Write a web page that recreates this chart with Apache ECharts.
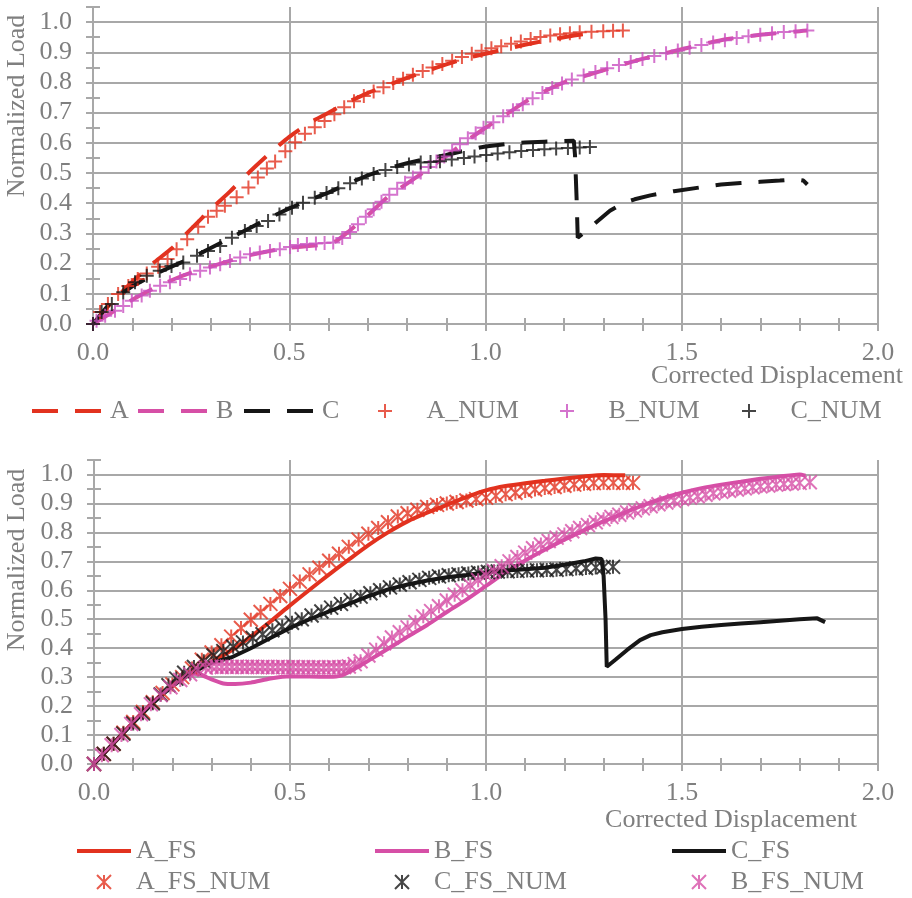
<!DOCTYPE html>
<html>
<head>
<meta charset="utf-8">
<script src="https://cdn.jsdelivr.net/npm/echarts@6/dist/echarts.min.js"></script>
<style>
  html, body { margin: 0; padding: 0; background: #ffffff; }
  #chart { width: 912px; height: 898px; }
</style>
</head>
<body>
<div id="chart"></div>
<script>
// ---- Upper panel: Corrected Displacement vs Normalized Load ----
const dispA = [[0,0],[0.05,0.075],[0.1,0.14],[0.15,0.198],[0.2,0.25],[0.25,0.315],[0.3,0.38],[0.35,0.44],[0.4,0.505],[0.45,0.565],[0.5,0.62],[0.55,0.665],[0.6,0.70],[0.65,0.735],[0.7,0.765],[0.75,0.79],[0.8,0.815],[0.85,0.838],[0.9,0.86],[0.95,0.88],[1.0,0.895],[1.05,0.91],[1.1,0.925],[1.15,0.938],[1.2,0.95],[1.25,0.96],[1.29,0.965]];

const dispB = [[0,0],[0.05,0.04],[0.1,0.08],[0.15,0.115],[0.2,0.145],[0.25,0.17],[0.3,0.19],[0.35,0.21],[0.4,0.228],[0.45,0.242],[0.5,0.253],[0.55,0.258],[0.6,0.265],[0.62,0.275],[0.65,0.305],[0.7,0.36],[0.75,0.42],[0.8,0.465],[0.85,0.51],[0.9,0.556],[0.95,0.605],[1.0,0.65],[1.05,0.692],[1.1,0.735],[1.15,0.77],[1.2,0.80],[1.3,0.84],[1.4,0.878],[1.5,0.91],[1.6,0.94],[1.7,0.958],[1.8,0.970],[1.82,0.972]];

const dispC = [[0,0],[0.05,0.08],[0.1,0.125],[0.15,0.16],[0.2,0.19],[0.25,0.218],[0.3,0.252],[0.35,0.285],[0.4,0.318],[0.45,0.352],[0.5,0.383],[0.55,0.41],[0.6,0.435],[0.65,0.465],[0.7,0.492],[0.75,0.515],[0.8,0.533],[0.85,0.547],[0.9,0.56],[0.95,0.575],[1.0,0.588],[1.05,0.596],[1.1,0.601],[1.15,0.604],[1.2,0.606],[1.225,0.607],[1.228,0.56],[1.232,0.42],[1.235,0.286],[1.26,0.312],[1.283,0.338],[1.317,0.375],[1.35,0.40],[1.38,0.413],[1.42,0.426],[1.48,0.44],[1.55,0.453],[1.6,0.462],[1.65,0.467],[1.7,0.471],[1.75,0.475],[1.79,0.479],[1.81,0.475],[1.82,0.462]];

const numA = [[0,0],[0.018,0.04],[0.038,0.066],[0.064,0.099],[0.09,0.126],[0.114,0.149],[0.137,0.167],[0.166,0.19],[0.19,0.215],[0.213,0.248],[0.24,0.281],[0.268,0.322],[0.293,0.355],[0.315,0.375],[0.336,0.392],[0.366,0.42],[0.396,0.452],[0.42,0.485],[0.443,0.515],[0.464,0.538],[0.49,0.572],[0.515,0.602],[0.54,0.63],[0.565,0.652],[0.59,0.672],[0.615,0.695],[0.64,0.718],[0.665,0.738],[0.69,0.755],[0.715,0.77],[0.74,0.784],[0.765,0.798],[0.79,0.812],[0.815,0.826],[0.84,0.838],[0.865,0.85],[0.89,0.861],[0.915,0.872],[0.94,0.884],[0.965,0.895],[0.99,0.905],[1.015,0.913],[1.04,0.92],[1.065,0.928],[1.09,0.936],[1.115,0.944],[1.14,0.951],[1.165,0.956],[1.19,0.96],[1.215,0.963],[1.24,0.966],[1.27,0.968],[1.3,0.97],[1.325,0.971],[1.35,0.972]];

const numB = [[0,0],[0.009,0.011],[0.031,0.027],[0.056,0.044],[0.077,0.06],[0.099,0.077],[0.124,0.094],[0.145,0.11],[0.171,0.127],[0.196,0.138],[0.222,0.149],[0.247,0.165],[0.273,0.176],[0.298,0.187],[0.324,0.198],[0.349,0.209],[0.375,0.22],[0.4,0.231],[0.425,0.237],[0.451,0.242],[0.476,0.248],[0.502,0.255],[0.522,0.262],[0.545,0.265],[0.568,0.267],[0.59,0.268],[0.612,0.27],[0.635,0.285],[0.655,0.305],[0.675,0.33],[0.695,0.355],[0.715,0.38],[0.735,0.405],[0.755,0.428],[0.775,0.448],[0.795,0.468],[0.815,0.485],[0.835,0.502],[0.855,0.52],[0.875,0.538],[0.895,0.555],[0.915,0.575],[0.935,0.595],[0.955,0.615],[0.975,0.632],[0.995,0.65],[1.02,0.668],[1.045,0.688],[1.07,0.708],[1.095,0.728],[1.12,0.748],[1.145,0.765],[1.17,0.782],[1.195,0.797],[1.22,0.81],[1.25,0.823],[1.28,0.835],[1.31,0.847],[1.34,0.858],[1.37,0.868],[1.4,0.878],[1.43,0.888],[1.46,0.897],[1.49,0.906],[1.52,0.915],[1.55,0.924],[1.58,0.932],[1.61,0.94],[1.64,0.947],[1.67,0.953],[1.7,0.958],[1.73,0.963],[1.76,0.967],[1.79,0.97],[1.82,0.972]];

const numC = [[0,0],[0.022,0.04],[0.048,0.066],[0.077,0.105],[0.107,0.138],[0.137,0.16],[0.17,0.176],[0.2,0.192],[0.23,0.204],[0.265,0.226],[0.293,0.242],[0.324,0.258],[0.354,0.286],[0.387,0.308],[0.417,0.325],[0.446,0.341],[0.475,0.363],[0.507,0.385],[0.535,0.402],[0.565,0.418],[0.595,0.434],[0.625,0.45],[0.655,0.466],[0.685,0.482],[0.715,0.497],[0.745,0.51],[0.775,0.52],[0.805,0.528],[0.835,0.535],[0.86,0.537],[0.884,0.539],[0.914,0.545],[0.945,0.55],[0.972,0.555],[1.002,0.56],[1.031,0.565],[1.061,0.569],[1.091,0.573],[1.121,0.576],[1.15,0.579],[1.18,0.581],[1.21,0.583],[1.24,0.585],[1.266,0.586]];

// ---- Lower panel: FS runs ----
const fsA = [[0,0],[0.05,0.072],[0.1,0.145],[0.15,0.213],[0.2,0.272],[0.25,0.315],[0.3,0.352],[0.35,0.392],[0.4,0.44],[0.45,0.492],[0.5,0.548],[0.55,0.602],[0.6,0.655],[0.65,0.706],[0.7,0.756],[0.75,0.80],[0.8,0.838],[0.85,0.868],[0.9,0.895],[0.95,0.922],[1.0,0.945],[1.05,0.96],[1.1,0.97],[1.15,0.978],[1.2,0.986],[1.25,0.993],[1.3,0.998],[1.355,0.997]];

const fsB = [[0,0],[0.05,0.072],[0.1,0.145],[0.15,0.213],[0.2,0.27],[0.25,0.312],[0.27,0.31],[0.3,0.292],[0.33,0.278],[0.36,0.276],[0.4,0.281],[0.45,0.295],[0.5,0.303],[0.55,0.302],[0.6,0.301],[0.63,0.305],[0.66,0.325],[0.7,0.357],[0.75,0.398],[0.8,0.44],[0.85,0.48],[0.9,0.525],[0.95,0.568],[1.0,0.615],[1.05,0.662],[1.1,0.703],[1.15,0.74],[1.2,0.775],[1.25,0.807],[1.3,0.838],[1.35,0.866],[1.4,0.893],[1.45,0.917],[1.5,0.937],[1.55,0.953],[1.6,0.965],[1.65,0.975],[1.7,0.985],[1.75,0.993],[1.8,1.0],[1.815,0.996]];

const fsC = [[0,0],[0.05,0.072],[0.1,0.142],[0.15,0.21],[0.2,0.27],[0.25,0.315],[0.3,0.35],[0.35,0.368],[0.4,0.4],[0.45,0.435],[0.5,0.47],[0.55,0.5],[0.6,0.527],[0.65,0.553],[0.7,0.58],[0.75,0.603],[0.8,0.62],[0.85,0.634],[0.9,0.645],[0.95,0.653],[1.0,0.662],[1.05,0.668],[1.1,0.673],[1.15,0.678],[1.2,0.688],[1.25,0.7],[1.28,0.71],[1.295,0.708],[1.3,0.65],[1.305,0.5],[1.308,0.336],[1.33,0.36],[1.36,0.394],[1.393,0.428],[1.42,0.445],[1.45,0.455],[1.5,0.466],[1.55,0.474],[1.6,0.48],[1.65,0.485],[1.7,0.49],[1.75,0.495],[1.8,0.5],[1.845,0.503],[1.865,0.49]];

const fsNumA = [[0,0],[0.025,0.035],[0.05,0.07],[0.075,0.108],[0.1,0.145],[0.125,0.18],[0.15,0.213],[0.175,0.245],[0.2,0.275],[0.225,0.3],[0.25,0.33],[0.275,0.36],[0.3,0.385],[0.325,0.41],[0.35,0.44],[0.375,0.47],[0.4,0.498],[0.425,0.525],[0.45,0.553],[0.475,0.58],[0.5,0.605],[0.525,0.63],[0.55,0.655],[0.575,0.678],[0.6,0.702],[0.625,0.726],[0.65,0.75],[0.675,0.775],[0.7,0.795],[0.725,0.815],[0.75,0.835],[0.775,0.855],[0.8,0.866],[0.825,0.878],[0.85,0.888],[0.875,0.895],[0.9,0.9],[0.925,0.905],[0.95,0.91],[0.975,0.915],[1.0,0.92],[1.025,0.926],[1.05,0.932],[1.075,0.937],[1.1,0.943],[1.125,0.948],[1.15,0.953],[1.175,0.957],[1.2,0.961],[1.225,0.965],[1.25,0.968],[1.275,0.97],[1.3,0.971],[1.325,0.971],[1.35,0.971],[1.375,0.971]];

const fsNumC = [[0,0],[0.025,0.035],[0.05,0.07],[0.075,0.105],[0.1,0.14],[0.125,0.175],[0.15,0.21],[0.17,0.24],[0.19,0.272],[0.21,0.295],[0.23,0.315],[0.255,0.335],[0.28,0.355],[0.305,0.375],[0.33,0.39],[0.355,0.405],[0.38,0.42],[0.405,0.435],[0.43,0.448],[0.455,0.462],[0.48,0.475],[0.505,0.488],[0.53,0.5],[0.555,0.513],[0.58,0.527],[0.605,0.54],[0.63,0.553],[0.655,0.566],[0.68,0.578],[0.705,0.59],[0.73,0.6],[0.755,0.61],[0.78,0.62],[0.805,0.628],[0.83,0.636],[0.855,0.643],[0.88,0.648],[0.905,0.652],[0.93,0.655],[0.955,0.658],[0.98,0.661],[1.005,0.663],[1.03,0.665],[1.055,0.666],[1.08,0.667],[1.105,0.668],[1.13,0.669],[1.155,0.67],[1.18,0.671],[1.205,0.673],[1.23,0.675],[1.255,0.677],[1.28,0.679],[1.3,0.68],[1.324,0.681]];

const fsNumB = [[0,0],[0.02,0.03],[0.045,0.065],[0.07,0.1],[0.095,0.138],[0.12,0.172],[0.145,0.206],[0.17,0.238],[0.195,0.265],[0.22,0.29],[0.245,0.31],[0.265,0.325],[0.285,0.333],[0.3,0.336],[0.313,0.336],[0.326,0.335],[0.339,0.336],[0.352,0.335],[0.365,0.336],[0.378,0.335],[0.391,0.335],[0.404,0.336],[0.417,0.335],[0.43,0.335],[0.443,0.335],[0.456,0.334],[0.469,0.335],[0.482,0.335],[0.495,0.334],[0.508,0.335],[0.521,0.334],[0.534,0.334],[0.547,0.334],[0.56,0.334],[0.573,0.334],[0.586,0.333],[0.599,0.334],[0.612,0.334],[0.625,0.334],[0.638,0.335],[0.65,0.337],[0.665,0.345],[0.68,0.355],[0.7,0.375],[0.72,0.395],[0.74,0.417],[0.76,0.437],[0.78,0.455],[0.8,0.472],[0.82,0.49],[0.84,0.51],[0.86,0.528],[0.88,0.545],[0.9,0.565],[0.92,0.585],[0.94,0.6],[0.96,0.617],[0.98,0.635],[1.0,0.652],[1.02,0.667],[1.04,0.683],[1.06,0.7],[1.08,0.715],[1.1,0.73],[1.12,0.745],[1.14,0.758],[1.16,0.77],[1.18,0.782],[1.2,0.793],[1.22,0.804],[1.24,0.815],[1.26,0.825],[1.28,0.835],[1.3,0.845],[1.32,0.853],[1.34,0.861],[1.36,0.869],[1.38,0.876],[1.4,0.883],[1.42,0.89],[1.44,0.897],[1.46,0.903],[1.48,0.909],[1.5,0.915],[1.52,0.92],[1.54,0.925],[1.56,0.93],[1.58,0.935],[1.6,0.94],[1.62,0.944],[1.64,0.948],[1.66,0.952],[1.68,0.956],[1.7,0.959],[1.72,0.962],[1.74,0.965],[1.76,0.967],[1.78,0.969],[1.8,0.971],[1.826,0.973]];

// Axis ranges and titles
const xRange = [0, 2.0];
const yRange = [0, 1.05];
const xTitle = 'Corrected Displacement';
const yTitle = 'Normalized Load';

const RED = '#e2321f';
const PINK = '#d64fa6';
const PURPLE = '#c950c0';
const BLACK = '#161616';
const TEXT = '#7f7f7f';
const GRID = '#a8a8a8';
const FONT = '"Liberation Serif", "Times New Roman", serif';

const PLUS = 'path://M5,0L5,10M0,5L10,5';
const STAR = 'path://M5,0L5,10M0,0L10,10M10,0L0,10';
const DASHED = [26, 17];

const chart = echarts.init(document.getElementById('chart'), null, { renderer: 'canvas' });

const onGrid = (v, step) => Math.abs(v / step - Math.round(v / step)) < 1e-6;
const clear = 'rgba(0,0,0,0)';

// Main axis (labels, gridlines, outward ticks) plus an overlay axis carrying inward ticks,
// so that every tick crosses the axis line.
function xAxes(gridIndex) {
  const base = {
    type: 'value', gridIndex, min: xRange[0], max: xRange[1], interval: 0.1, position: 'bottom'
  };
  return [
    Object.assign({}, base, {
      axisLine: { show: true, onZero: false, lineStyle: { color: GRID, width: 2 } },
      axisTick: { show: true, inside: false, length: 7, lineStyle: { color: GRID, width: 2 } },
      splitLine: { show: true, lineStyle: { color: [GRID, clear, clear, clear, clear], width: 2 } },
      axisLabel: {
        margin: 16, color: TEXT, fontFamily: FONT, fontSize: 26,
        formatter: v => onGrid(v, 0.5) ? v.toFixed(1) : ''
      }
    }),
    Object.assign({}, base, {
      axisLine: { show: false, onZero: false },
      axisTick: { show: true, inside: true, length: 6, lineStyle: { color: GRID, width: 2 } },
      splitLine: { show: false },
      axisLabel: { show: false }
    })
  ];
}
function yAxes(gridIndex) {
  const base = {
    type: 'value', gridIndex, min: yRange[0], max: yRange[1], interval: 0.05, position: 'left'
  };
  return [
    Object.assign({}, base, {
      axisLine: { show: true, onZero: false, lineStyle: { color: GRID, width: 2 } },
      axisTick: { show: true, inside: false, length: 7, lineStyle: { color: GRID, width: 2 } },
      splitLine: { show: true, showMaxLine: false, lineStyle: { color: [GRID, clear], width: 2 } },
      axisLabel: {
        margin: 21, color: TEXT, fontFamily: FONT, fontSize: 26,
        formatter: v => (onGrid(v, 0.1) && v < 1.01) ? v.toFixed(1) : ''
      }
    }),
    Object.assign({}, base, {
      axisLine: { show: false, onZero: false },
      axisTick: { show: true, inside: true, length: 7, lineStyle: { color: GRID, width: 2 } },
      splitLine: { show: false },
      axisLabel: { show: false }
    })
  ];
}

function lineSeries(name, data, color, axis, type, smooth) {
  return {
    name, type: 'line', data, xAxisIndex: axis, yAxisIndex: axis,
    symbol: 'none', smooth: smooth, silent: true,
    lineStyle: { color, width: 4, type },
    itemStyle: { color },
    emphasis: { disabled: true }, z: 3
  };
}
function markerSeries(name, data, color, axis, symbol, size) {
  return {
    name, type: 'scatter', data, xAxisIndex: axis, yAxisIndex: axis,
    symbol, symbolSize: size, silent: true,
    itemStyle: { color, borderColor: color, borderWidth: 2 },
    emphasis: { disabled: true }, z: 4
  };
}

// Legend entries: line entries draw only the stroke, marker entries draw the glyph
const lineEntry = (name, color, type) => ({
  name,
  itemStyle: { color: clear, borderColor: clear, borderWidth: 0, opacity: 0 },
  lineStyle: { color, width: 4, type, opacity: 1 }
});
const legendText = { color: TEXT, fontFamily: FONT, fontSize: 26, lineHeight: 28 };
// one legend block per entry in the upper row, so each entry sits at its own column
const rowLegend = (left, entry) => ({
  left, top: 397, padding: 0, itemWidth: 73, itemHeight: 14,
  textStyle: legendText, selectedMode: false, data: [entry]
});
const colLegend = (left, data) => ({
  left, top: 837, orient: 'vertical', padding: 0, itemWidth: 54, itemHeight: 14, itemGap: 3,
  textStyle: legendText, selectedMode: false, data
});

const option = {
  animation: false,
  backgroundColor: '#ffffff',
  grid: [
    { left: 93, top: 7, width: 785, height: 317 },
    { left: 94, top: 460, width: 784, height: 304 }
  ],
  xAxis: [...xAxes(0), ...xAxes(1)],
  yAxis: [...yAxes(0), ...yAxes(1)],
  legend: [
    rowLegend(30, lineEntry('A', RED, DASHED)),
    rowLegend(136, lineEntry('B', PINK, DASHED)),
    rowLegend(242, lineEntry('C', BLACK, DASHED)),
    rowLegend(377, 'A_NUM'),
    rowLegend(559, 'B_NUM'),
    rowLegend(741, 'C_NUM'),
    colLegend(75, [lineEntry('A_FS', RED, 'solid'), 'A_FS_NUM']),
    colLegend(373, [lineEntry('B_FS', PINK, 'solid'), 'C_FS_NUM']),
    colLegend(670, [lineEntry('C_FS', BLACK, 'solid'), 'B_FS_NUM'])
  ],
  graphic: [
    { type: 'text', x: 903, y: 376, style: { text: xTitle, fill: TEXT, font: '26px ' + FONT, align: 'right', verticalAlign: 'middle' } },
    { type: 'text', x: 857, y: 820, style: { text: xTitle, fill: TEXT, font: '26px ' + FONT, align: 'right', verticalAlign: 'middle' } },
    { type: 'text', x: 17, y: 106, rotation: Math.PI / 2, style: { text: yTitle, fill: TEXT, font: '26px ' + FONT, align: 'center', verticalAlign: 'middle' } },
    { type: 'text', x: 17, y: 560, rotation: Math.PI / 2, style: { text: yTitle, fill: TEXT, font: '26px ' + FONT, align: 'center', verticalAlign: 'middle' } }
  ],
  series: [
    lineSeries('A', dispA, RED, 0, DASHED, 0.2),
    lineSeries('B', dispB, PINK, 0, DASHED, 0.2),
    lineSeries('C', dispC, BLACK, 0, DASHED, false),
    markerSeries('A_NUM', numA, RED, 0, PLUS, 14),
    markerSeries('B_NUM', numB, PURPLE, 0, PLUS, 14),
    markerSeries('C_NUM', numC, BLACK, 0, PLUS, 14),

    lineSeries('A_FS', fsA, RED, 2, 'solid', 0.2),
    lineSeries('B_FS', fsB, PINK, 2, 'solid', 0.2),
    lineSeries('C_FS', fsC, BLACK, 2, 'solid', false),
    markerSeries('A_FS_NUM', fsNumA, RED, 2, STAR, 14),
    markerSeries('C_FS_NUM', fsNumC, BLACK, 2, STAR, 14),
    markerSeries('B_FS_NUM', fsNumB, PINK, 2, STAR, 14)
  ]
};

chart.setOption(option);
</script>
</body>
</html>
